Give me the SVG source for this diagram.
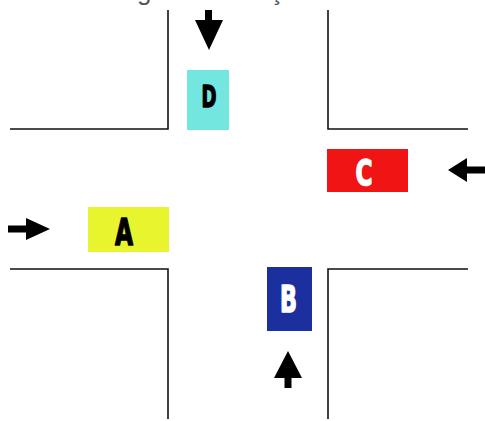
<svg xmlns="http://www.w3.org/2000/svg" width="485" height="421" viewBox="0 0 485 421">
<style>
.road{fill:none;stroke:#111;stroke-width:1.6}
.lbl{font-family:"DejaVu Sans",sans-serif;font-weight:bold;text-anchor:middle;stroke-width:1.6;stroke-linejoin:round}
.dk{fill:#000;stroke:#000}
.lt{fill:#fff;stroke:#fff}
.arr{fill:#000}
.cap{font-family:"Liberation Sans",Arial,sans-serif;font-size:26px;fill:#555}
</style>
<rect width="485" height="421" fill="#fff"/>
<text class="cap" x="-38" y="0">Considere a seguinte situação em um cruzamento</text>
<g id="roads">
<path class="road" d="M168 10 V129 H10"/>
<path class="road" d="M328 10 V129 H468"/>
<path class="road" d="M10 269 H168 V419"/>
<path class="road" d="M328 419 V269 H468"/>
</g>
<g id="connectors">
<path class="arr" d="M205 10 H212 V20 H223 L209 50 L195 20 H205 Z"/>
<path class="arr" d="M485 166.5 V173.5 H467 V182 L448 170 L467 158 V166.5 Z"/>
<path class="arr" d="M8 225.5 H26 V218 L50 229 L26 240 V232.5 H8 Z"/>
<path class="arr" d="M284.5 388 H291.5 V378 H302 L288 351 L274 378 H284.5 Z"/>
</g>
<g id="D"><rect x="187" y="70" width="42" height="60" fill="#72E6DF"/><text class="lbl dk" x="209" y="107" font-size="31" textLength="15" lengthAdjust="spacingAndGlyphs">D</text></g>
<g id="C"><rect x="327" y="149" width="81" height="43" fill="#F01414"/><text class="lbl lt" x="364" y="185" font-size="36" textLength="17" lengthAdjust="spacingAndGlyphs">C</text></g>
<g id="A"><rect x="88" y="207" width="81" height="45" fill="#E8F52E"/><text class="lbl dk" x="124" y="245" font-size="37" textLength="18" lengthAdjust="spacingAndGlyphs">A</text></g>
<g id="B"><rect x="267" y="267" width="45" height="64" fill="#1B2F9E"/><text class="lbl lt" x="288.5" y="312" font-size="38" textLength="17" lengthAdjust="spacingAndGlyphs">B</text></g>
</svg>
